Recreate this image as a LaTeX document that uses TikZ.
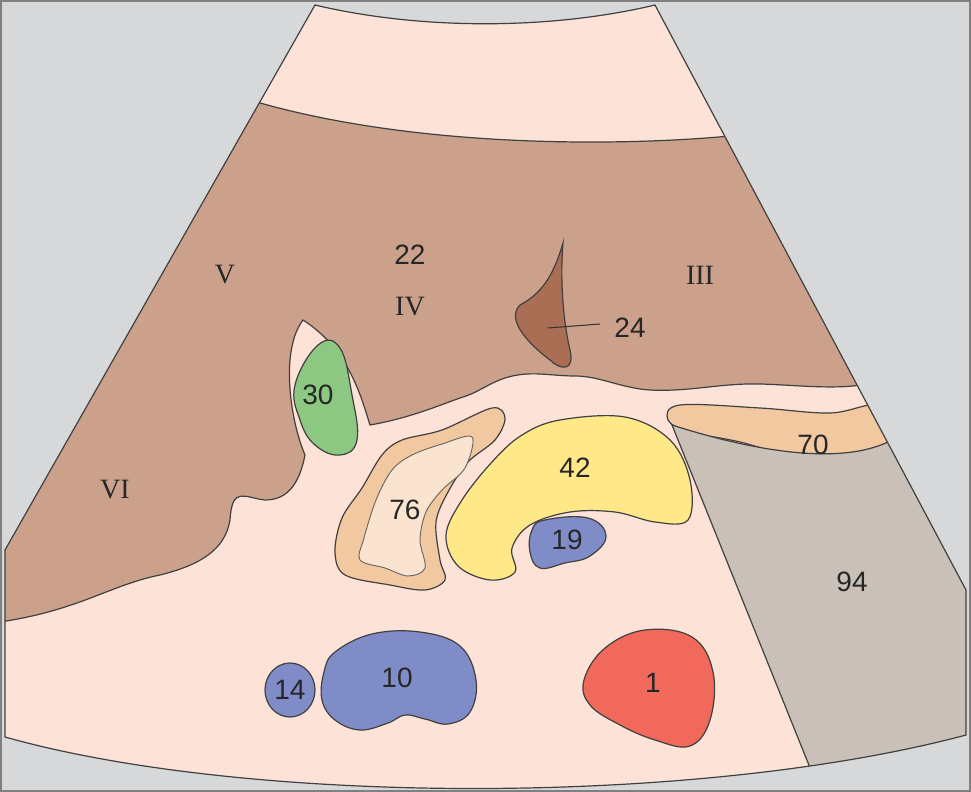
\documentclass[tikz,border=0pt]{standalone}
\usepackage{fontspec}
\setmainfont{Liberation Serif}
\newfontfamily\lab{Liberation Sans}
\begin{document}
\begin{tikzpicture}[x=0.75pt,y=-0.75pt,
  outl/.style={draw=black!75,line width=0.9pt},
  num/.style={font=\lab\fontsize{21}{21}\selectfont,text=black!85},
  rom/.style={font=\fontsize{21}{21}\selectfont,text=black!85}]
\definecolor{bg}{RGB}{214,216,218}
\definecolor{peach}{RGB}{252,226,215}
\definecolor{liver}{RGB}{204,161,140}
\definecolor{dliver}{RGB}{170,110,85}
\definecolor{tan}{RGB}{242,200,160}
\definecolor{ltan}{RGB}{250,228,208}
\definecolor{gray94}{RGB}{201,192,183}
\definecolor{green30}{RGB}{140,200,130}
\definecolor{blue}{RGB}{128,140,200}
\definecolor{yel}{RGB}{255,232,135}
\definecolor{red1}{RGB}{240,105,90}
\useasboundingbox (0,0) rectangle (971,792);
\fill[bg] (0,0) rectangle (971,792);
\def\fan{(315,5) .. controls (420,30) and (550,30) .. (655,5) -- (966,590) -- (966,735) .. controls (700,806) and (250,806) .. (5,737) -- (5,550) -- cycle}
\fill[peach] \fan;
\begin{scope}
\clip \fan;
% liver
\fill[liver,draw=black!75,line width=0.9pt] (250,100) .. controls (400,145) and (600,148) .. (730,136) -- (880,380)
  .. controls (850,392) and (800,385) .. (760,384) .. controls (720,383) and (690,392) .. (650,390)
  .. controls (620,388) and (600,376) .. (575,376) .. controls (550,376) and (530,370) .. (505,378)
  .. controls (485,385) and (480,392) .. (460,398) .. controls (440,405) and (410,418) .. (370,425)
  .. controls (362,400) and (350,350) .. (303,320) .. controls (280,350) and (290,420) .. (305,455)
  .. controls (300,480) and (290,500) .. (265,500) .. controls (245,498) and (232,485) .. (230,520)
  .. controls (225,550) and (200,565) .. (160,575) .. controls (110,585) and (80,610) .. (0,622) -- (0,400) -- cycle;
% 70
\draw[outl,fill=tan] plot[smooth cycle,tension=0.6] coordinates {(680,405) (760,408) (830,413) (878,405) (900,428) (870,452) (810,460) (740,442) (690,432) (668,420)};
% 94
\fill[gray94,draw=black!75,line width=0.9pt] (672,425) .. controls (750,450) and (850,470) .. (900,435) -- (1000,600) -- (1000,800) -- (823,800) -- cycle;
\end{scope}
\draw[outl] \fan;
% 30
\draw[outl,fill=green30] plot[smooth cycle,tension=0.7] coordinates {(318,345) (340,348) (352,395) (357,440) (340,455) (315,445) (300,420) (295,385)};
% 24
\draw[outl,fill=dliver] (563,243) .. controls (555,270) and (545,292) .. (520,305) .. controls (505,320) and (530,345) .. (550,360)
  .. controls (560,370) and (575,372) .. (570,350) .. controls (563,320) and (560,280) .. (563,243) -- cycle;
\draw[black!80,line width=0.8pt] (548,328) -- (600,324);
% 76
\draw[outl,fill=tan] plot[smooth cycle,tension=0.55] coordinates {(492,408) (505,418) (495,440) (468,462) (448,492) (436,522) (440,560) (445,580) (425,590) (390,585) (345,575) (335,552) (342,518) (362,488) (382,455) (402,440) (442,430)};
\draw[black!60,line width=0.7pt,fill=ltan] plot[smooth cycle,tension=0.55] coordinates {(472,437) (465,468) (442,490) (426,512) (420,540) (425,568) (408,576) (385,568) (360,560) (364,538) (376,500) (392,470) (412,455) (442,444)};
% 42
\draw[outl,fill=yel] plot[smooth cycle,tension=0.6] coordinates {(560,420) (625,417) (670,440) (690,480) (688,520) (655,522) (615,512) (570,512) (530,525) (512,548) (515,572) (490,580) (458,566) (446,535) (462,500) (492,462) (522,435)};
% 19
\draw[outl,fill=blue] plot[smooth cycle,tension=0.7] coordinates {(545,520) (588,518) (606,536) (590,556) (565,563) (540,568) (530,552) (532,530)};
% 10
\draw[outl,fill=blue] plot[smooth cycle,tension=0.65] coordinates {(335,652) (372,634) (420,632) (460,646) (476,680) (470,712) (448,724) (425,719) (405,715) (388,723) (360,730) (335,720) (322,700) (324,672)};
% 14
\draw[outl,fill=blue] (290,690) ellipse [x radius=25,y radius=27];
% 1
\draw[outl,fill=red1] plot[smooth cycle,tension=0.65] coordinates {(605,648) (645,630) (692,637) (713,672) (710,720) (690,746) (655,740) (620,725) (590,705) (584,680)};
\draw[gray,line width=0.8pt] (1,1) rectangle (970,791);
\node[rom] (lV) at (225,275) {V};
\node[num] (l22) at (410,255) {22};
\node[rom] (lIV) at (410,307) {IV};
\node[rom] (lIII) at (700,275) {III};
\node[rom] (lVI) at (115,490) {VI};
\node[num] (l24) at (630,328) {24};
\node[num] (l30) at (318,395) {30};
\node[num] (l76) at (405,510) {76};
\node[num] (l42) at (575,468) {42};
\node[num] (l19) at (567,540) {19};
\node[num] (l70) at (813,445) {70};
\node[num] (l94) at (852,582) {94};
\node[num] (l10) at (397,678) {10};
\node[num] (l14) at (290,690) {14};
\node[num] (l1) at (653,683) {1};
\end{tikzpicture}
\end{document}
